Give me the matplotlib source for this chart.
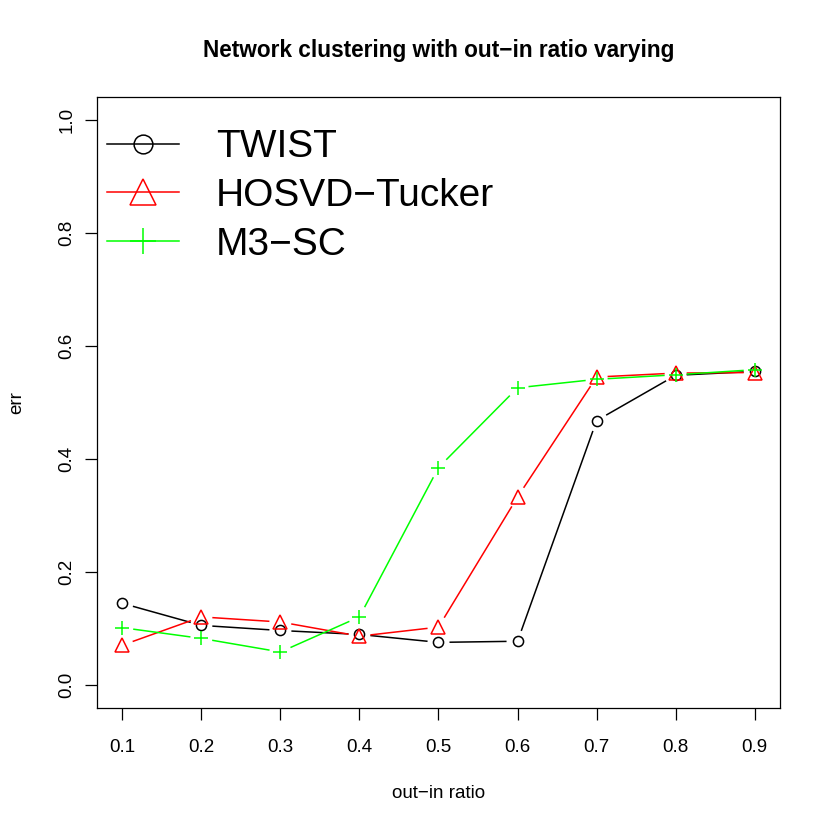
import numpy as np
import matplotlib
matplotlib.use('Agg')
import matplotlib.pyplot as plt
from matplotlib.lines import Line2D

plt.rcParams['font.family'] = ['Liberation Sans', 'DejaVu Sans']

# data
ratio = [0.1, 0.2, 0.3, 0.4, 0.5, 0.6, 0.7, 0.8, 0.9]
twist = [0.145, 0.106, 0.097, 0.090, 0.076, 0.078, 0.468, 0.548, 0.555]
hosvd = [0.071, 0.121, 0.112, 0.087, 0.103, 0.333, 0.545, 0.552, 0.553]
m3sc = [0.102, 0.083, 0.059, 0.121, 0.385, 0.526, 0.541, 0.549, 0.558]
names = ['TWIST', 'HOSVD\u2212Tucker', 'M3\u2212SC']
x_ticks = [0.1, 0.2, 0.3, 0.4, 0.5, 0.6, 0.7, 0.8, 0.9]
y_ticks = [0.0, 0.2, 0.4, 0.6, 0.8, 1.0]

fig = plt.figure(figsize=(8.3, 8.3), dpi=100)
ax = fig.add_axes([97 / 830, 1 - 708 / 830, 683 / 830, 611 / 830])
ax.set_xlim(0.068, 0.932)
ax.set_ylim(-0.04, 1.04)


def type_b(ax, x, y, color, gap=11):
    # R style type="b": lines stop short of the points
    pts = ax.transData.transform(np.column_stack([x, y]))
    inv = ax.transData.inverted()
    for i in range(len(pts) - 1):
        p, q = pts[i], pts[i + 1]
        d = q - p
        L = np.hypot(*d)
        if L <= 2 * gap:
            continue
        u = d / L
        seg = inv.transform(np.array([p + u * gap, q - u * gap]))
        ax.plot(seg[:, 0], seg[:, 1], color=color, lw=1.1, solid_capstyle='butt')


styles = [('black', 'o', 7.3), ('#FF0000', '^', 10), ('#00FF00', '+', 10)]
for vals, (c, m, ms) in zip([twist, hosvd, m3sc], styles):
    type_b(ax, ratio, vals, c)
    ax.plot(ratio, vals, linestyle='none', marker=m, ms=ms, mfc='none',
            mec=c, mew=1.1)

ax.set_xticks(x_ticks)
ax.set_xticklabels([str(v) for v in x_ticks])
ax.set_yticks(y_ticks)
ax.set_yticklabels([str(v) for v in y_ticks], rotation=90, va='center')
ax.tick_params(direction='out', length=8.5, width=0.9, labelsize=13.5)
ax.tick_params(axis='x', pad=13.5)
ax.tick_params(axis='y', pad=7)
for s in ax.spines.values():
    s.set_linewidth(0.9)

ax.set_xlabel('out\u2212in ratio', fontsize=13.5, labelpad=21)
ax.set_ylabel('err', fontsize=13.5, labelpad=24)
ax.set_title('Network clustering with out\u2212in ratio varying',
             fontsize=16.3, fontweight='bold', pad=29)

handles = []
for (c, m, ms), n in zip(styles, names):
    handles.append(Line2D([0], [0], color=c, lw=1.1, marker=m, ms=ms * 1.85,
                          mfc='none', mec=c, mew=1.1))
ax.legend(handles, names, loc='upper left', frameon=False, fontsize=28,
          handlelength=1.85, handletextpad=0.95, labelspacing=0.33,
          borderaxespad=0.0, borderpad=0.2, bbox_to_anchor=(0.003, 0.96))

fig.savefig('out.png', dpi=100)
